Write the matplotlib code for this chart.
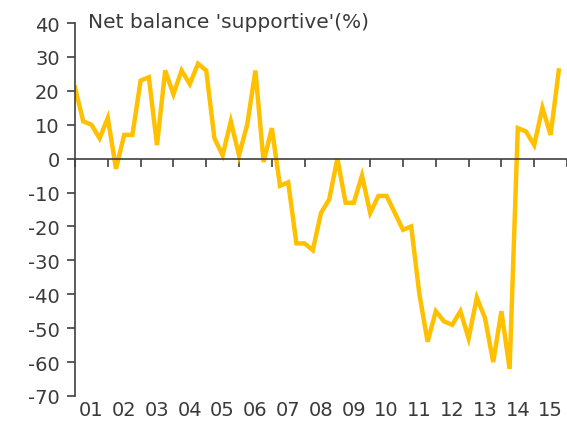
import numpy as np
import matplotlib.pyplot as plt

# quarterly series, 2001Q1 .. 2015Q4
years = list(range(2001, 2016))
year_labels = ["01", "02", "03", "04", "05", "06", "07", "08",
               "09", "10", "11", "12", "13", "14", "15"]
net_balance = [
    21, 11, 10, 6,      # 2001
    12, -3, 7, 7,       # 2002
    23, 24, 4, 26,      # 2003
    19, 26, 22, 28,     # 2004
    26, 6, 1, 11,       # 2005
    1, 10, 26, -1,      # 2006
    9, -8, -7, -25,     # 2007
    -25, -27, -16, -12, # 2008
    0, -13, -13, -5,    # 2009
    -16, -11, -11, -16, # 2010
    -21, -20, -40, -54, # 2011
    -45, -48, -49, -45, # 2012
    -53, -41, -47, -60, # 2013
    -45, -62, 9, 8,     # 2014
    4, 15, 7, 26,       # 2015
]
y_ticks = list(range(-70, 41, 10))
title = "Net balance 'supportive'(%)"

x = np.array(years[0]) + np.arange(len(net_balance)) / 4.0

plt.rcParams["font.family"] = ["DejaVu Sans"]
plt.rcParams["axes.unicode_minus"] = False
text_col = "#3a3a3a"
axis_col = "#404040"

fig = plt.figure(figsize=(5.67, 4.39), dpi=100)
ax = fig.add_axes([75 / 567, 1 - 397 / 439, 1 - 75 / 567, (397 - 24) / 439])

ax.plot(x, net_balance, color="#FFC000", lw=3.2, solid_joinstyle="miter")

ax.set_xlim(years[0], years[-1] + 1)
ax.set_ylim(-70, 40)
ax.set_yticks(y_ticks)
ax.tick_params(axis="y", direction="out", length=6, width=1.2,
               color=axis_col, labelcolor=text_col, labelsize=14, pad=5)

# x axis line sits at zero, year boundary ticks below it
ax.spines["bottom"].set_position(("data", 0))
ax.spines["bottom"].set_color(axis_col)
ax.spines["bottom"].set_linewidth(1.2)
ax.spines["left"].set_color(axis_col)
ax.spines["left"].set_linewidth(1.2)
ax.spines["top"].set_visible(False)
ax.spines["right"].set_visible(False)
ax.set_xticks(years + [years[-1] + 1])
ax.tick_params(axis="x", direction="out", length=6, width=1.2,
               color=axis_col, labelbottom=False)

# year labels along the bottom of the plot
sec = ax.secondary_xaxis(0)
sec.set_xticks([yr + 0.5 for yr in years], year_labels)
sec.tick_params(length=0, pad=3, labelsize=14, labelcolor=text_col)
sec.spines["bottom"].set_visible(False)

fig.text(88 / 567, 1 - 22 / 439, title, fontsize=14.5, color=text_col,
         ha="left", va="center")

fig.savefig("out.png", dpi=100)
